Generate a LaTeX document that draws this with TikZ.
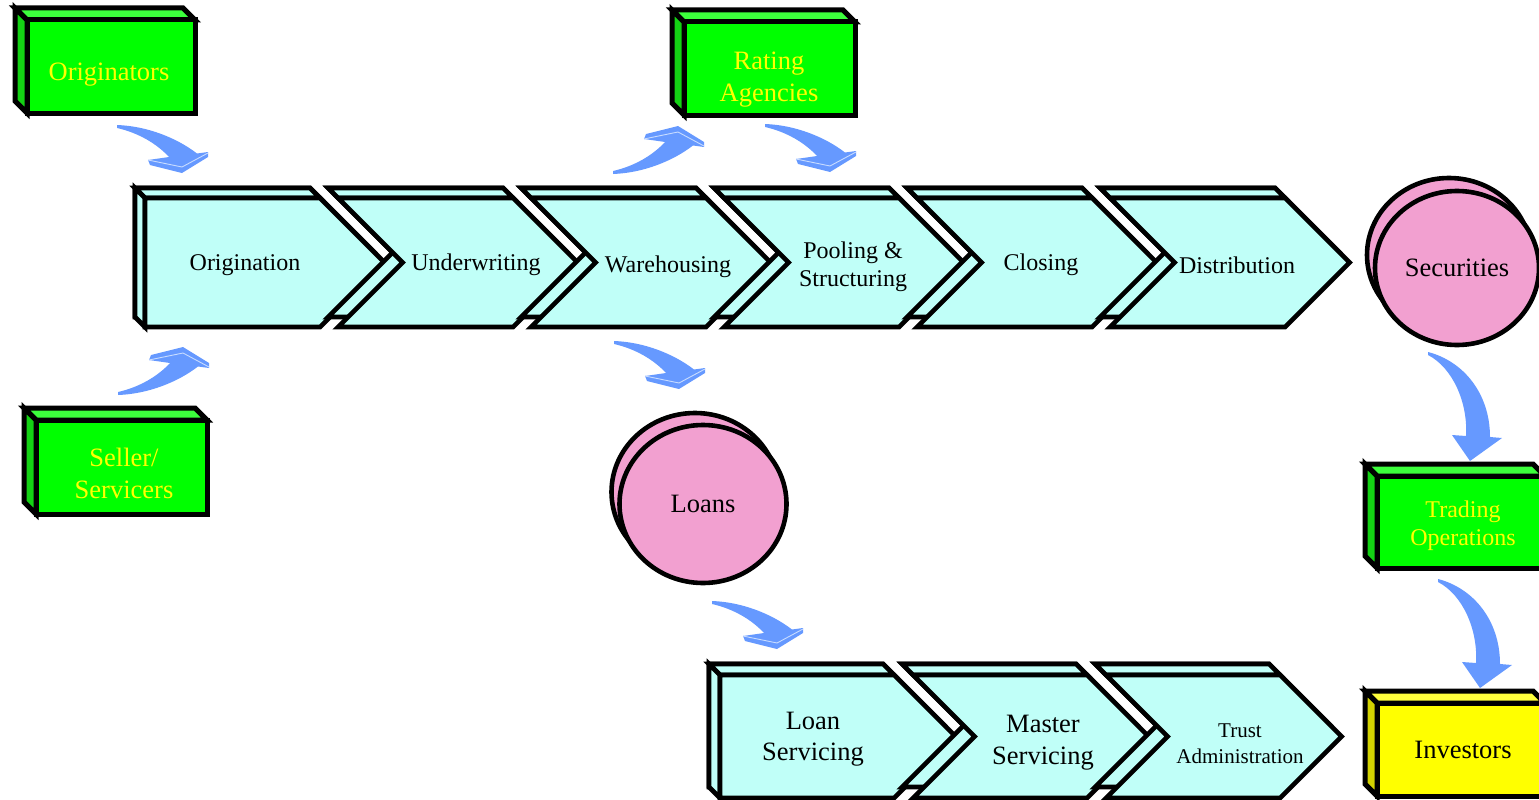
\documentclass[tikz,border=0pt]{standalone}
\usepackage{fontspec}
\setmainfont{Liberation Serif}
\usetikzlibrary{shapes.geometric}
\definecolor{cyanf}{RGB}{192,255,248}
\definecolor{gfront}{RGB}{0,255,0}
\definecolor{gtop}{RGB}{60,255,60}
\definecolor{gside}{RGB}{20,210,20}
\definecolor{yfront}{RGB}{255,255,0}
\definecolor{ytop}{RGB}{255,255,60}
\definecolor{yside}{RGB}{210,210,0}
\definecolor{pinkf}{RGB}{242,160,208}
\definecolor{arrowblue}{RGB}{102,153,255}
\definecolor{ridge}{RGB}{200,220,255}
\definecolor{ytext}{RGB}{255,255,0}
\newcommand\drawchev[6]{%
 \pgfmathsetmacro\cR{#1+#4}%
 \pgfmathsetmacro\cH{(#3-#2)/2}%
 \pgfmathsetmacro\cM{(#2+#3)/2}%
 \pgfmathsetmacro\cT{#1+#4+\cH}%
 \pgfmathsetmacro\cN{#1+\cH*#5}%
 \pgfmathsetmacro\cO{#6}%
 \draw[chev] ({#1-\cO},{#2-\cO}) -- ({\cR-\cO},{#2-\cO}) -- ({\cT-\cO},{\cM-\cO}) -- ({\cR-\cO},{#3-\cO}) -- ({#1-\cO},{#3-\cO}) -- ({\cN-\cO},{\cM-\cO}) -- cycle;
 \draw[chev] ({#1-\cO},{#2-\cO}) -- ({\cR-\cO},{#2-\cO}) -- (\cR,#2) -- (#1,#2) -- cycle;
 \ifnum#5=0 \draw[chev] ({#1-\cO},{#2-\cO}) -- (#1,#2) -- (#1,#3) -- ({#1-\cO},{#3-\cO}) -- cycle;\fi
 \draw[chev] (#1,#2) -- (\cR,#2) -- (\cT,\cM) -- (\cR,#3) -- (#1,#3) -- (\cN,\cM) -- cycle;
}
\newcommand\gbox[8]{%
 \draw[boxl, fill=#7] ({#2-12},{#3-12}) -- ({#4-12},{#3-12}) -- (#4,#3) -- (#2,#3) -- cycle;
 \draw[boxl, fill=#8] ({#2-12},{#3-12}) -- (#2,#3) -- (#2,#5) -- ({#2-12},{#5-12}) -- cycle;
 \node[boxl, fill=#6, inner sep=0pt, minimum width={#4-#2}, minimum height={#5-#3}] (#1) at ({(#2+#4)/2},{(#3+#5)/2}) {};
}
\tikzset{
 chev/.style={draw=black, line width=4.6pt, fill=cyanf, line join=miter},
 boxl/.style={draw=black, line width=5pt, line join=miter, rectangle},
 circl/.style={draw=black, line width=4.6pt, fill=pinkf, ellipse, inner sep=0pt},
 ytxt/.style={text=ytext, font=\fontsize{26.5}{32}\selectfont, align=center, inner sep=0pt},
 btxt/.style={text=black, font=\fontsize{26.5}{32}\selectfont, align=center, inner sep=0pt},
 ctxt/.style={text=black, font=\fontsize{24}{28}\selectfont, align=center, inner sep=0pt},
 barrow/.pic={
  \fill[arrowblue] (0,-1) .. controls (30,0) and (60,12) .. (80,27.5) -- (91,26) -- (91,31) -- (65,47) -- (33,39) -- (31,34) -- (52,31) .. controls (40,18) and (22,7) .. (0,2) -- cycle;
  \draw[ridge, line width=0.9pt] (31,34) -- (65,41) -- (91,27);
 },
 varrow/.pic={
  \fill[arrowblue] (0,-1) .. controls (35,8) and (62,40) .. (62,84) -- (74,85) -- (42,108) -- (24,82) -- (38,83) .. controls (40,50) and (25,15) .. (0,2) -- cycle;
 }
}
\begin{document}
\begin{tikzpicture}[x=1pt,y=-1pt]
\useasboundingbox (0,0) rectangle (1539,800);
\clip (0,0) rectangle (1539,800);
% top row chevrons
\drawchev{145}{198}{327}{175}{0}{10}
\drawchev{338}{198}{327}{175}{1}{10}
\drawchev{531}{198}{327}{175}{1}{10}
\drawchev{724}{198}{327}{175}{1}{10}
\drawchev{917}{198}{327}{175}{1}{10}
\drawchev{1110}{198}{327}{175}{1}{10}
% bottom row chevrons
\drawchev{720}{675}{798}{174}{0}{11}
\drawchev{913}{675}{798}{174}{1}{11}
\drawchev{1106}{675}{798}{174}{1}{11}
% chevron labels
\node[ctxt] (origination) at (245,265) {Origination};
\node[ctxt] (underwriting) at (476,265) {Underwriting};
\node[ctxt] (warehousing) at (668,267) {Warehousing};
\node[ctxt] (pooling) at (853,267) {Pooling \&\\Structuring};
\node[ctxt] (closing) at (1041,265) {Closing};
\node[ctxt] (distribution) at (1237,265) {Distribution};
\node[btxt, font=\fontsize{26.5}{31}\selectfont] (loanserv) at (813,739) {Loan\\Servicing};
\node[btxt] (masterserv) at (1043,743) {Master\\Servicing};
\node[btxt, font=\fontsize{21}{26}\selectfont] (trust) at (1240,744) {Trust\\Administration};
% boxes
\gbox{origbox}{27}{20}{195}{113}{gfront}{gtop}{gside}
\gbox{ratebox}{684}{22}{855}{115}{gfront}{gtop}{gside}
\gbox{sellbox}{36}{420}{207}{514}{gfront}{gtop}{gside}
\gbox{tradebox}{1377}{476}{1545}{568}{gfront}{gtop}{gside}
\gbox{invbox}{1377}{703}{1545}{796}{yfront}{ytop}{yside}
\node[ytxt] (originators) at (109,75) {Originators};
\node[ytxt] (rating) at (769,80) {Rating\\Agencies};
\node[ytxt] (seller) at (124,473) {Seller/\\Servicers};
\node[ytxt, font=\fontsize{24}{28}\selectfont] (trading) at (1463,526) {Trading\\Operations};
\node[btxt] (investors) at (1463,750) {Investors};
% circles
\node[circl, minimum width=164pt, minimum height=154pt] (secback) at (1449,255) {};
\node[circl, minimum width=164pt, minimum height=154pt, font=\fontsize{26.5}{32}\selectfont] (securities) at (1457,268) {Securities};
\node[circl, minimum width=167pt, minimum height=158pt] (loanback) at (695,492) {};
\node[circl, minimum width=167pt, minimum height=158pt, font=\fontsize{26.5}{32}\selectfont] (loans) at (703,504) {\raisebox{-3pt}{Loans}};
% curved arrows
\pic at (117,126) {barrow};
\pic[yscale=-1] at (118,394) {barrow};
\pic[yscale=-1] at (613,173) {barrow};
\pic at (765,125) {barrow};
\pic at (614,342) {barrow};
\pic at (712,602) {barrow};
\pic at (1428,353) {varrow};
\pic at (1438,580) {varrow};
\end{tikzpicture}
\end{document}
